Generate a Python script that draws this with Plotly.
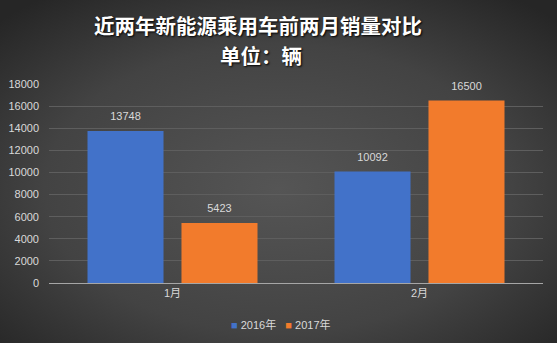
import base64
import plotly.graph_objects as go

# Data
months = ["1月", "2月"]
series_names = ["2016年", "2017年"]
sales_2016 = [13748, 10092]
sales_2017 = [5423, 16500]
y_ticks = [0, 2000, 4000, 6000, 8000, 10000, 12000, 14000, 16000, 18000]

colors = ["#4272c9", "#f27b2c"]

W, H = 557, 343
M = dict(l=49, r=14, t=84, b=60)
pw = W - M["l"] - M["r"]
ph = H - M["t"] - M["b"]

# Radial-gradient backdrop for the whole card
svg = f"""<svg xmlns='http://www.w3.org/2000/svg' width='{W}' height='{H}'>
<defs><radialGradient id='g' cx='50%' cy='55%' r='70%'>
<stop offset='0%' stop-color='#555555'/>
<stop offset='60%' stop-color='#434343'/>
<stop offset='100%' stop-color='#262626'/>
</radialGradient></defs>
<rect width='{W}' height='{H}' fill='url(#g)'/></svg>"""
bg_src = "data:image/svg+xml;base64," + base64.b64encode(svg.encode()).decode()

label_font = dict(family="Liberation Sans, Noto Sans CJK SC", size=11, color="#d9d9d9")
title_font = dict(family="Noto Sans CJK SC", size=20.5, color="#ffffff",
                  weight="bold", shadow="1px 1px 2px #000000")

fig = go.Figure()
for name, vals, col in zip(series_names, [sales_2016, sales_2017], colors):
    fig.add_trace(go.Bar(
        name=name, x=months, y=vals, offsetgroup=name,
        marker=dict(color=col, line=dict(width=0)),
    ))
    # value labels, grouped like the bars so they sit above each one
    fig.add_trace(go.Scatter(
        x=months, y=vals, offsetgroup=name, mode="text+markers",
        marker=dict(size=11, opacity=0),
        text=[str(v) for v in vals], textposition="top center",
        textfont=label_font, cliponaxis=False, showlegend=False, hoverinfo="skip",
    ))

# Compact legend drawn as text under the axis
legend_text = "   ".join(
    f"<span style='color:{c}'>■</span> {n}" for n, c in zip(series_names, colors)
)

title_x = (258 - M["l"]) / pw

fig.update_layout(
    width=W, height=H, margin=M,
    paper_bgcolor="#3a3a3a", plot_bgcolor="rgba(0,0,0,0)",
    barmode="group", bargap=0.239, bargroupgap=0.191,
    scattermode="group", scattergap=0.239,
    showlegend=False,
    font=dict(family="Liberation Sans, Noto Sans CJK SC", color="#d9d9d9"),
    images=[dict(source=bg_src, xref="paper", yref="paper",
                 x=-M["l"] / pw, y=1 + M["t"] / ph,
                 sizex=W / pw, sizey=H / ph,
                 xanchor="left", yanchor="top", sizing="stretch", layer="below")],
    annotations=[
        dict(text="近两年新能源乘用车前两月销量对比",
             xref="paper", yref="paper", x=title_x, y=1 + (M["t"] - 25) / ph,
             xanchor="center", yanchor="middle", showarrow=False, font=title_font),
        dict(text="单位：辆",
             xref="paper", yref="paper", x=(261 - M["l"]) / pw, y=1 + (M["t"] - 55) / ph,
             xanchor="center", yanchor="middle", showarrow=False, font=title_font),
        dict(text=legend_text, xref="paper", yref="paper",
             x=(281 - M["l"]) / pw, y=-(324 - (H - M["b"])) / ph,
             xanchor="center", yanchor="middle", showarrow=False,
             font=dict(family="Liberation Sans, Noto Sans CJK SC", size=11, color="#d9d9d9")),
    ],
)

fig.update_yaxes(
    range=[0, 18000], tickvals=y_ticks, ticktext=[str(v) for v in y_ticks],
    showgrid=True, gridcolor="#5e5e5e", gridwidth=1,
    zeroline=False, showline=False, ticks="", ticklen=0,
    ticklabelstandoff=9, automargin=False,
    tickfont=label_font,
)
fig.update_xaxes(
    showline=True, linecolor="#a6a6a6", linewidth=1,
    ticks="", tickfont=label_font, automargin=False,
)

fig.write_html("out.html")
